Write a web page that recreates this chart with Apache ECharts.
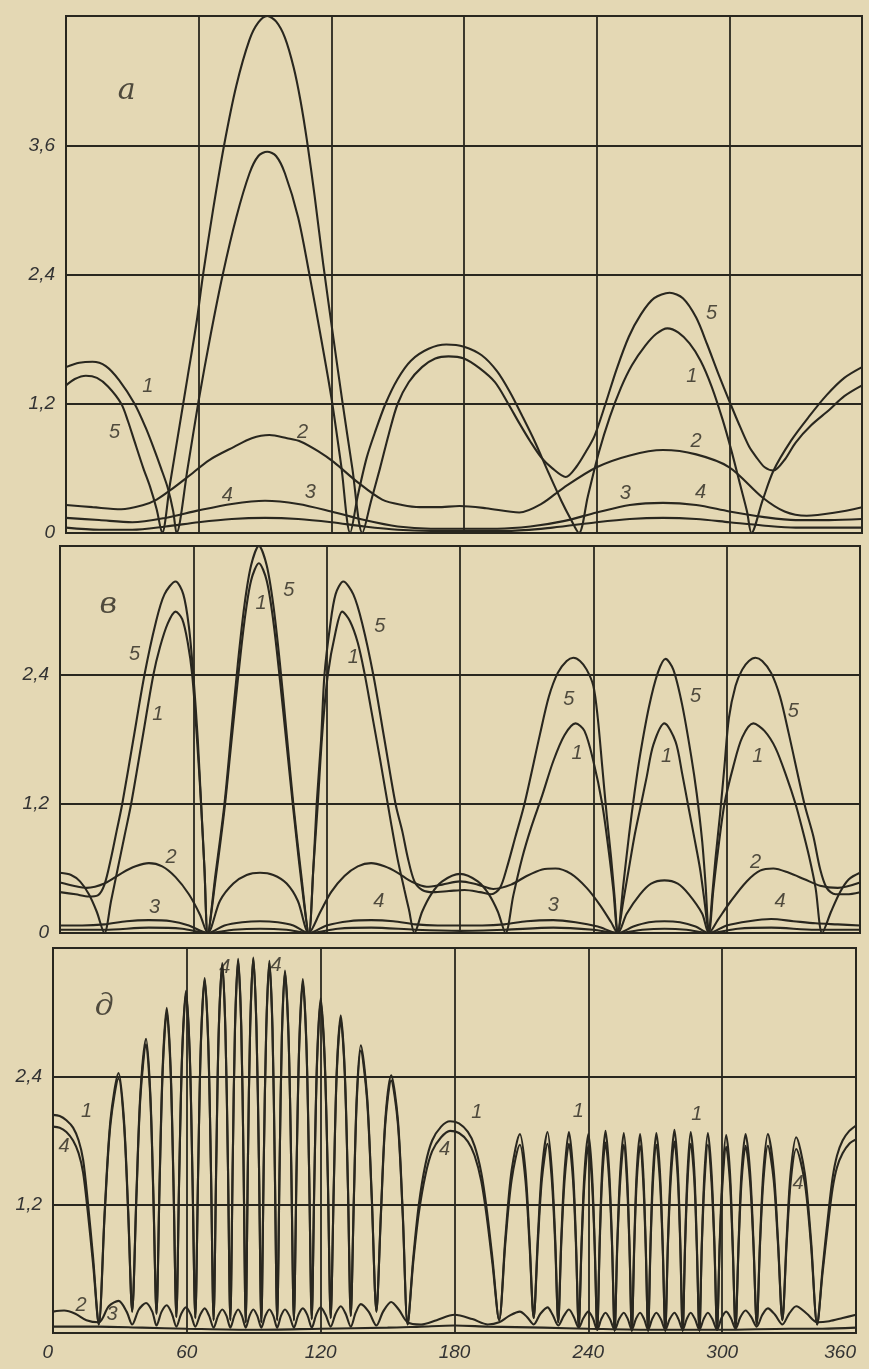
<!DOCTYPE html>
<html><head><meta charset="utf-8">
<script src="https://cdn.jsdelivr.net/npm/echarts/dist/echarts.min.js"></script>
<style>html,body{margin:0;padding:0;background:#e5dab7;} #c{width:869px;height:1369px;}</style>
</head><body><div id="c"></div>
<script>
// ---------- tick labels ----------
const xTickLabels = ['0','60','120','180','240','300','360'];
const yLabelsA = ['0','1,2','2,4','3,6',''];
const yLabelsB = ['0','1,2','2,4',''];
const yLabelsD = ['','1,2','2,4',''];
const panelLetters = [[27.5,4.1,'а'],[21.7,3.05,'в'],[23,3.05,'д']];

// ---------- panel а ----------
const a1 = [[0,1.54],[6,1.58],[12,1.59],[18,1.55],[24,1.42],[31,1.2],[36,0.98],[40,0.77],[43,0.6],[46,0.42],[48.5,0.2],[50,0],
[55,0.6],[60,1.23],[65.5,1.85],[71,2.41],[77,2.93],[83,3.34],[87,3.5],[91,3.54],[95,3.5],[99,3.34],[105,2.93],[110,2.41],[115,1.85],[120,1.26],[124.5,0.62],[128.5,0],
[132,0.35],[136,0.7],[140,0.95],[144.5,1.2],[150,1.43],[156,1.6],[164,1.71],[172,1.75],[180,1.73],[188,1.65],[195,1.5],[201,1.3],[206,1.1],[212,0.85],[218,0.57],[224,0.3],[228,0.14],[232,0],
[236,0.34],[241,0.75],[246,1.08],[251,1.35],[256,1.56],[262,1.74],[267,1.85],[272,1.9],[277,1.86],[282,1.76],[287,1.6],[292,1.36],[297,1.05],[301,0.76],[305,0.44],[308,0.2],[310,0],
[315,0.3],[320,0.58],[328,0.86],[336,1.08],[344,1.28],[352,1.44],[360,1.54]];
const a5 = [[0,1.37],[4,1.43],[9,1.46],[14,1.44],[19,1.36],[25,1.2],[28,1.04],[31,0.85],[35,0.6],[38,0.43],[41,0.22],[43.5,0],
[47,0.45],[51,0.95],[55,1.45],[59,1.95],[62,2.4],[66.5,3.0],[71.5,3.6],[77,4.15],[83,4.58],[87,4.74],[91,4.8],[95,4.75],[99,4.6],[103,4.32],[106,4.02],[109,3.64],[112.5,3.12],[116.3,2.5],[121,1.8],[125,1.22],[129.5,0.6],[134,0],
[138,0.3],[142,0.6],[146,0.92],[150,1.2],[155,1.4],[161,1.54],[167,1.62],[173,1.64],[180,1.62],[187,1.53],[194,1.4],[200,1.2],[205,1.02],[210,0.85],[215,0.7],[220,0.6],[226,0.52],
[231,0.62],[235,0.75],[239,0.9],[244,1.2],[249,1.52],[254.5,1.82],[260,2.03],[266,2.18],[273,2.23],[279,2.18],[285,2.0],[290,1.75],[295,1.48],[300.5,1.2],[305,0.98],[309,0.8],[312,0.71],[316,0.61],[320,0.58],
[325,0.68],[330,0.84],[337,1.0],[345,1.14],[352,1.27],[360,1.37]];
const a2 = [[0,0.26],[12,0.24],[25,0.22],[35,0.26],[41,0.31],[48,0.41],[55,0.52],[65,0.68],[76,0.8],[84,0.88],[92,0.91],[100,0.88],[106,0.85],[114,0.76],[121,0.66],[132,0.47],[143,0.31],[152,0.26],[160,0.24],[168,0.24],[178,0.25],[190,0.23],[205,0.19],[215,0.27],[225,0.42],[240,0.61],[255,0.72],[270,0.77],[285,0.73],[300,0.61],[315,0.33],[325,0.2],[335,0.16],[348,0.19],[360,0.24]];
const a3 = [[0,0.14],[15,0.12],[30,0.1],[45,0.14],[60,0.21],[75,0.27],[90,0.3],[105,0.27],[120,0.2],[135,0.12],[150,0.06],[165,0.04],[180,0.04],[195,0.04],[210,0.06],[225,0.11],[240,0.19],[255,0.26],[270,0.28],[285,0.26],[300,0.2],[315,0.15],[330,0.12],[345,0.12],[360,0.13]];
const a4 = [[0,0.05],[15,0.03],[30,0.03],[45,0.06],[60,0.1],[75,0.13],[90,0.14],[105,0.13],[120,0.1],[135,0.06],[150,0.03],[165,0.02],[180,0.02],[200,0.02],[220,0.05],[240,0.1],[255,0.13],[270,0.14],[285,0.13],[300,0.1],[315,0.07],[330,0.05],[345,0.05],[360,0.05]];
const labelsA = [[37,1.36,'1'],[22,0.93,'5'],[107,0.93,'2'],[73,0.35,'4'],[110.5,0.38,'3'],[292,2.04,'5'],[283,1.45,'1'],[285,0.85,'2'],[253,0.37,'3'],[287,0.38,'4']];

// ---------- panel в ----------
const b1 = [[0,0.56],[5,0.54],[9,0.48],[13,0.36],[16.5,0.2],[20,0],[23,0.3],[26,0.6],[29,0.9],[32,1.2],[37,1.8],[42,2.4],[45,2.66],[48.5,2.88],[52,2.99],[55,2.92],[57.5,2.7],[59.5,2.4],[61.5,1.85],[63.5,1.2],[65,0.6],[66.5,0],
[70,0.5],[74,1.15],[77,1.75],[80,2.35],[83,2.9],[86,3.28],[89.5,3.44],[93,3.28],[96,2.9],[99,2.35],[102,1.75],[105,1.15],[108.5,0.5],[112,0],
[114,0.6],[116,1.2],[118,1.85],[120.5,2.4],[124,2.8],[127,2.99],[130.5,2.9],[134,2.7],[137,2.42],[140,2.08],[144,1.62],[149,1.02],[152,0.68],[155,0.4],[157,0.22],[159.5,0],
[163,0.2],[167,0.36],[172,0.48],[180,0.55],[188,0.48],[193,0.36],[197,0.2],[200.5,0],
[204,0.35],[208,0.7],[212,0.98],[217,1.28],[222,1.6],[227,1.84],[232,1.95],[236,1.88],[240,1.6],[244,1.2],[247,0.75],[249,0.4],[251,0],
[253.5,0.3],[256,0.6],[258.5,0.9],[261,1.15],[264,1.45],[267,1.75],[272,1.95],[277,1.78],[280,1.48],[283,1.15],[285.5,0.88],[288,0.6],[290,0.3],[292,0],
[294,0.4],[296,0.75],[299,1.2],[303,1.55],[307,1.82],[312,1.95],[317,1.88],[322,1.72],[327,1.45],[331,1.2],[334,0.97],[337,0.72],[340,0.42],[343,0],
[347,0.2],[351,0.38],[355,0.5],[360,0.56]];
const b5 = [[0,0.38],[7,0.36],[13,0.34],[17,0.35],[20,0.45],[23,0.7],[25.5,0.95],[28,1.2],[33,1.8],[38,2.4],[43,2.88],[47,3.15],[52,3.27],[55.5,3.15],[58,2.85],[60,2.4],[62,1.8],[63.5,1.2],[65,0.6],[66.5,0],
[70,0.55],[74,1.2],[77,1.85],[80,2.5],[83,3.05],[86,3.42],[89.5,3.6],[93,3.42],[96,3.05],[99,2.5],[102,1.85],[105,1.2],[108.5,0.55],[112,0],
[114,0.6],[115.5,1.2],[117.5,1.8],[119,2.4],[121.5,2.85],[124,3.15],[127.5,3.27],[132,3.15],[136,2.88],[141,2.4],[146,1.8],[151,1.2],[154,0.95],[156.5,0.7],[159.5,0.48],[163,0.4],[168,0.38],[175,0.39],[182,0.4],[189,0.38],[194,0.36],[198,0.42],[201,0.6],[205,0.9],[209,1.2],[216,1.85],[220,2.2],[224,2.42],[228,2.53],[231,2.56],[234,2.53],[237,2.45],[240,2.3],[242,2.0],[244,1.55],[246,1.1],[248,0.7],[249.5,0.35],[251,0],
[253.5,0.45],[256,0.9],[258.5,1.3],[261,1.65],[265,2.1],[269,2.42],[272.5,2.55],[276,2.45],[280,2.12],[284,1.65],[286.5,1.3],[289,0.85],[290.5,0.45],[292,0],
[293.5,0.35],[295,0.7],[297,1.1],[299,1.55],[301,2.0],[304,2.3],[307,2.45],[310,2.53],[313,2.56],[316,2.53],[320,2.42],[324,2.2],[328,1.85],[335,1.2],[339,0.9],[342,0.6],[345,0.42],[349,0.36],[354,0.36],[360,0.38]];
const b2 = [[0,0.47],[6,0.44],[12,0.42],[20,0.46],[28,0.56],[34,0.62],[40,0.65],[46,0.62],[52,0.52],[58,0.36],[63,0.17],[66.5,0],[72,0.3],[78,0.46],[84,0.54],[90,0.56],[96,0.54],[102,0.46],[107,0.3],[112,0],[117,0.19],[122,0.38],[128,0.53],[134,0.62],[140,0.65],[146,0.62],[152,0.56],[158,0.48],[165,0.43],[172,0.45],[180,0.48],[188,0.45],[195,0.41],[203,0.45],[210,0.53],[217,0.59],[223,0.6],[230,0.55],[237,0.42],[243,0.26],[248,0.1],[251,0],[255,0.18],[261,0.36],[266,0.46],[272,0.49],[278,0.46],[283,0.36],[289,0.18],[292,0],[296,0.12],[302,0.3],[309,0.48],[315,0.58],[321,0.6],[328,0.56],[335,0.5],[342,0.44],[350,0.42],[360,0.47]];
const b3 = [[0,0.07],[10,0.07],[20,0.08],[30,0.11],[40,0.12],[50,0.11],[58,0.07],[66.5,0],[74,0.07],[82,0.1],[90,0.11],[98,0.1],[105,0.07],[112,0],[120,0.07],[130,0.11],[140,0.12],[150,0.11],[160,0.08],[170,0.07],[180,0.07],[190,0.07],[200,0.08],[210,0.11],[222,0.12],[232,0.1],[242,0.06],[251,0],[258,0.06],[265,0.1],[272,0.11],[279,0.1],[286,0.06],[292,0],[300,0.07],[310,0.11],[320,0.13],[330,0.11],[340,0.09],[350,0.08],[360,0.07]];
const b4 = [[0,0.03],[20,0.03],[40,0.05],[55,0.04],[66.5,0],[78,0.03],[90,0.04],[102,0.03],[112,0],[125,0.04],[140,0.05],[160,0.03],[180,0.02],[200,0.03],[222,0.05],[240,0.03],[251,0],[262,0.03],[272,0.04],[282,0.03],[292,0],[305,0.04],[320,0.05],[340,0.03],[360,0.03]];
const labelsB = [[33.5,2.59,'5'],[44,2.03,'1'],[90.5,3.07,'1'],[103,3.19,'5'],[143.9,2.85,'5'],[132,2.56,'1'],[50,0.7,'2'],[42.6,0.24,'3'],[143.5,0.29,'4'],[229,2.17,'5'],[232.7,1.67,'1'],[286,2.2,'5'],[273,1.64,'1'],[330,2.06,'5'],[314,1.64,'1'],[313,0.66,'2'],[222,0.26,'3'],[324,0.29,'4']];

// ---------- panel д ----------
const d1 = [[0,2.04],[3,2.03],[6,1.99],[9,1.92],[11.5,1.8],[13.5,1.62],[15.5,1.25],[18,0.7],[20.5,0.08],
[23.2,1.15],[25.8,2.0],[29.4,2.43],[31.8,2.0],[33.7,1.15],[35.5,0.2],
[37.4,1.3],[39.2,2.25],[41.7,2.75],[43.6,2.25],[45.0,1.3],[46.4,0.18],
[47.8,1.43],[49.2,2.5],[51,3.04],[52.7,2.5],[54.0,1.43],[55.3,0.15],
[56.6,1.5],[57.9,2.62],[59.6,3.2],[61.3,2.62],[62.5,1.5],[63.8,0.14],
[65.1,1.55],[66.3,2.72],[68,3.32],[69.6,2.72],[70.8,1.55],[72,0.12],
[73.2,1.6],[74.3,2.82],[75.9,3.44],[77.3,2.82],[78.4,1.6],[79.5,0.12],
[80.6,1.63],[81.6,2.87],[83,3.5],[84.4,2.87],[85.4,1.63],[86.4,0.1],
[87.4,1.63],[88.4,2.87],[89.8,3.51],[91.2,2.87],[92.3,1.63],[93.4,0.1],
[94.5,1.6],[95.6,2.83],[97,3.46],[98.4,2.83],[99.4,1.6],[100.5,0.12],
[101.6,1.58],[102.6,2.78],[104,3.39],[105.6,2.78],[106.8,1.58],[108,0.12],
[109.2,1.55],[110.4,2.71],[112,3.31],[113.6,2.71],[114.8,1.55],[116,0.13],
[117.2,1.47],[118.4,2.57],[120,3.13],[121.8,2.57],[123.2,1.47],[124.5,0.14],
[125.9,1.4],[127.2,2.45],[129,2.97],[130.8,2.45],[132.2,1.4],[133.5,0.16],
[134.9,1.28],[136.2,2.22],[138,2.69],[140.8,2.22],[142.9,1.28],[145,0.2],
[147,1.12],[149,2.0],[151.6,2.41],[154.6,2.0],[156.8,1.12],[159,0.08],
[161.5,0.7],[164,1.2],[167,1.58],[170,1.8],[174,1.93],[178,1.98],[182,1.96],[186,1.88],[189,1.75],[192,1.5],[194.5,1.15],[197,0.7],[200,0.12],
[202.8,0.89],[205.6,1.52],[209.3,1.86],[211.8,1.52],[213.6,0.89],[215.5,0.14],
[217.4,0.91],[219.2,1.53],[221.7,1.88],[223.6,1.53],[225.1,0.91],[226.5,0.1],
[227.9,0.9],[229.4,1.53],[231.3,1.88],[233.1,1.53],[234.4,0.9],[235.7,0.06],
[237.0,0.87],[238.3,1.51],[240,1.86],[241.6,1.51],[242.8,0.87],[244,0.03],
[245.1,0.87],[246.2,1.53],[247.7,1.89],[249.3,1.53],[250.6,0.87],[251.8,0.02],
[253.0,0.86],[254.3,1.51],[255.9,1.87],[257.3,1.51],[258.4,0.86],[259.5,0.02],
[260.6,0.85],[261.7,1.51],[263.2,1.86],[264.6,1.51],[265.7,0.85],[266.8,0.02],
[267.9,0.86],[269.0,1.51],[270.5,1.87],[272.1,1.51],[273.3,0.86],[274.5,0.02],
[275.7,0.87],[277.0,1.54],[278.6,1.9],[280.1,1.54],[281.2,0.87],[282.3,0.02],
[283.4,0.86],[284.5,1.52],[285.9,1.88],[287.5,1.52],[288.6,0.86],[289.8,0.02],
[290.9,0.86],[292.1,1.51],[293.6,1.87],[295.2,1.51],[296.5,0.86],[297.7,0.03],
[298.9,0.85],[300.2,1.5],[301.8,1.85],[303.5,1.5],[304.7,0.85],[306,0.05],
[307.4,0.87],[308.7,1.51],[310.5,1.86],[312.5,1.51],[314.0,0.87],[315.5,0.08],
[317.0,0.88],[318.5,1.52],[320.5,1.86],[323.1,1.52],[325.0,0.88],[327,0.12],
[328.9,0.88],[330.7,1.5],[333.2,1.83],[337.0,1.5],[339.8,0.88],[342.6,0.08],
[345,0.6],[347.5,1.1],[349.5,1.45],[351.5,1.66],[354,1.8],[357,1.89],[360,1.94]];
const d4 = [[0,1.93],[3,1.92],[6,1.88],[9,1.8],[11.5,1.68],[13.5,1.5],[15.5,1.15],[18,0.64],[20.5,0.08],
[23.2,1.12],[25.8,1.96],[29.4,2.38],[31.8,1.96],[33.7,1.12],[35.5,0.2],
[37.4,1.27],[39.2,2.21],[41.7,2.7],[43.6,2.21],[45.0,1.27],[46.4,0.18],
[47.8,1.4],[49.2,2.46],[51,3.0],[52.7,2.46],[54.0,1.4],[55.3,0.15],
[56.6,1.48],[57.9,2.6],[59.6,3.17],[61.3,2.6],[62.5,1.48],[63.8,0.14],
[65.1,1.54],[66.3,2.7],[68,3.3],[69.6,2.7],[70.8,1.54],[72,0.12],
[73.2,1.61],[74.3,2.83],[75.9,3.46],[77.3,2.83],[78.4,1.61],[79.5,0.12],
[80.6,1.62],[81.6,2.85],[83,3.48],[84.4,2.85],[85.4,1.62],[86.4,0.1],
[87.4,1.63],[88.4,2.86],[89.8,3.5],[91.2,2.86],[92.3,1.63],[93.4,0.1],
[94.5,1.62],[95.6,2.85],[97,3.48],[98.4,2.85],[99.4,1.62],[100.5,0.12],
[101.6,1.57],[102.6,2.76],[104,3.37],[105.6,2.76],[106.8,1.57],[108,0.12],
[109.2,1.53],[110.4,2.69],[112,3.28],[113.6,2.69],[114.8,1.53],[116,0.13],
[117.2,1.45],[118.4,2.54],[120,3.1],[121.8,2.54],[123.2,1.45],[124.5,0.14],
[125.9,1.38],[127.2,2.42],[129,2.93],[130.8,2.42],[132.2,1.38],[133.5,0.16],
[134.9,1.26],[136.2,2.18],[138,2.64],[140.8,2.18],[142.9,1.26],[145,0.2],
[147,1.1],[149,1.96],[151.6,2.36],[154.6,1.96],[156.8,1.1],[159,0.08],
[161.5,0.66],[164,1.12],[167,1.48],[170,1.7],[174,1.83],[178,1.89],[182,1.87],[186,1.79],[189,1.66],[192,1.42],[194.5,1.08],[197,0.65],[200,0.12],
[202.8,0.84],[205.6,1.43],[209.3,1.76],[211.8,1.43],[213.6,0.84],[215.5,0.14],
[217.4,0.85],[219.2,1.44],[221.7,1.77],[223.6,1.44],[225.1,0.85],[226.5,0.1],
[227.9,0.85],[229.4,1.44],[231.3,1.77],[233.1,1.44],[234.4,0.85],[235.7,0.06],
[237.0,0.83],[238.3,1.42],[240,1.75],[241.6,1.42],[242.8,0.83],[244,0.03],
[245.1,0.83],[246.2,1.44],[247.7,1.78],[249.3,1.44],[250.6,0.83],[251.8,0.02],
[253.0,0.82],[254.3,1.42],[255.9,1.76],[257.3,1.42],[258.4,0.82],[259.5,0.02],
[260.6,0.81],[261.7,1.42],[263.2,1.75],[264.6,1.42],[265.7,0.81],[266.8,0.02],
[267.9,0.82],[269.0,1.42],[270.5,1.76],[272.1,1.42],[273.3,0.82],[274.5,0.02],
[275.7,0.83],[277.0,1.45],[278.6,1.79],[280.1,1.45],[281.2,0.83],[282.3,0.02],
[283.4,0.82],[284.5,1.43],[285.9,1.77],[287.5,1.43],[288.6,0.82],[289.8,0.02],
[290.9,0.82],[292.1,1.42],[293.6,1.76],[295.2,1.42],[296.5,0.82],[297.7,0.03],
[298.9,0.81],[300.2,1.41],[301.8,1.74],[303.5,1.41],[304.7,0.81],[306,0.05],
[307.4,0.83],[308.7,1.42],[310.5,1.75],[312.5,1.42],[314.0,0.83],[315.5,0.08],
[317.0,0.84],[318.5,1.43],[320.5,1.75],[323.1,1.43],[325.0,0.84],[327,0.12],
[328.9,0.83],[330.7,1.41],[333.2,1.72],[337.0,1.41],[339.8,0.83],[342.6,0.08],
[345,0.56],[347.5,1.02],[349.5,1.35],[351.5,1.55],[354,1.68],[357,1.77],[360,1.81]];
const d2 = [[0,0.2],[5,0.21],[10,0.18],[15,0.12],[20.5,0.1],
[25,0.25],[29.4,0.3],[33,0.2],[35.5,0.08],
[38.5,0.22],[41.7,0.28],[44.5,0.2],[46.4,0.07],
[48.7,0.2],[51,0.26],[53.3,0.18],[55.3,0.06],
[57.5,0.18],[59.6,0.24],[61.8,0.17],[63.8,0.06],
[66,0.17],[68,0.23],[70,0.16],[72,0.05],
[74,0.16],[75.9,0.22],[77.8,0.16],[79.5,0.05],
[81.3,0.16],[83,0.22],[84.7,0.16],[86.4,0.05],
[88.1,0.16],[89.8,0.22],[91.6,0.16],[93.4,0.05],
[95.2,0.16],[97,0.22],[98.8,0.16],[100.5,0.05],
[102.2,0.16],[104,0.22],[106,0.16],[108,0.05],
[110,0.17],[112,0.23],[114,0.17],[116,0.05],
[118,0.17],[120,0.24],[122.2,0.17],[124.5,0.06],
[126.7,0.18],[129,0.25],[131.2,0.18],[133.5,0.06],
[135.7,0.19],[138,0.27],[141.5,0.2],[145,0.07],
[148,0.2],[151.6,0.29],[155,0.22],[159,0.1],
[165,0.08],[172,0.12],[180,0.17],[188,0.13],[195,0.08],[200,0.1],
[204.5,0.16],[209.3,0.2],[212.5,0.15],[215.5,0.08],
[218.5,0.18],[221.7,0.24],[224,0.17],[226.5,0.07],
[229,0.16],[231.3,0.22],[233.5,0.15],[235.7,0.05],
[237.8,0.14],[240,0.2],[242,0.14],[244,0.03],
[245.8,0.13],[247.7,0.19],[249.7,0.13],[251.8,0.03],
[253.8,0.13],[255.9,0.19],[257.7,0.13],[259.5,0.03],
[261.3,0.13],[263.2,0.19],[265,0.13],[266.8,0.03],
[268.6,0.13],[270.5,0.19],[272.5,0.13],[274.5,0.03],
[276.5,0.13],[278.6,0.19],[280.4,0.13],[282.3,0.03],
[284.1,0.13],[285.9,0.19],[287.8,0.13],[289.8,0.03],
[291.7,0.13],[293.6,0.19],[295.6,0.13],[297.7,0.03],
[299.7,0.14],[301.8,0.2],[303.9,0.14],[306,0.04],
[308.2,0.15],[310.5,0.21],[313,0.15],[315.5,0.06],
[318,0.17],[320.5,0.23],[323.7,0.17],[327,0.08],
[330,0.18],[333.2,0.25],[338,0.18],[342.6,0.1],
[348,0.11],[354,0.14],[360,0.17]];
const d3 = [[0,0.06],[20,0.06],[40,0.05],[60,0.04],[90,0.03],[120,0.04],[150,0.05],[165,0.06],[180,0.07],[195,0.06],[220,0.05],[240,0.04],[270,0.03],[300,0.03],[330,0.04],[345,0.04],[360,0.05]];
const labelsD = [[15,2.07,'1'],[5,1.74,'4'],[77,3.42,'4'],[100,3.44,'4'],[12.6,0.26,'2'],[26.5,0.17,'3'],[190,2.06,'1'],[235.5,2.07,'1'],[288.6,2.04,'1'],[175.5,1.72,'4'],[334,1.4,'4']];

// ---------- styling / build ----------
const INK = '#29271f';
const grids = [
  {left:66, top:16, width:796, height:517},
  {left:60, top:546, width:800, height:387},
  {left:53, top:948, width:803, height:385}
];
const yMax = [4.8, 3.6, 3.6];
const yLab = [yLabelsA, yLabelsB, yLabelsD];
const panels = [[a1,a2,a3,a4,a5],[b1,b2,b3,b4,b5],[d1,d2,d3,d4]];
const labels = [labelsA, labelsB, labelsD];

const option = {
  backgroundColor: '#e4d8b4',
  animation: false,
  grid: grids.map(g => Object.assign({show:true, borderColor:INK, borderWidth:2, backgroundColor:'transparent', containLabel:false, outerBoundsMode:'none'}, g)),
  xAxis: grids.map((g,i) => ({
    type:'value', gridIndex:i, min:0, max:360, interval:60,
    axisLine:{show:false}, axisTick:{show:false},
    splitLine:{show:true, lineStyle:{color:INK, width:1.8}},
    axisLabel:{show:i===2, margin:10, color:'#333', fontSize:19, fontStyle:'italic', fontFamily:'Liberation Sans',
      alignMinLabel:'right', alignMaxLabel:'right',
      formatter:(v,idx)=>xTickLabels[idx]}
  })),
  yAxis: grids.map((g,i) => ({
    type:'value', gridIndex:i, min:0, max:yMax[i], interval:1.2,
    axisLine:{show:false}, axisTick:{show:false},
    splitLine:{show:true, lineStyle:{color:INK, width:1.8}},
    axisLabel:{show:true, margin:11, color:'#333', fontSize:19, fontStyle:'italic', fontFamily:'Liberation Sans',
      formatter:(v,idx)=>yLab[i][idx]}
  })),
  series: []
};
panels.forEach((arr,i) => {
  arr.forEach(d => option.series.push({
    type:'line', xAxisIndex:i, yAxisIndex:i, data:d, showSymbol:false, symbol:'none',
    smooth:0.3, silent:true, clip:true,
    lineStyle:{color:INK, width:2.1}
  }));
  option.series.push({
    type:'scatter', xAxisIndex:i, yAxisIndex:i, symbolSize:0, silent:true,
    data: labels[i],
    label:{show:true, position:'inside', formatter:p=>p.data[2], color:INK, fontSize:20, fontStyle:'italic', fontFamily:'Liberation Sans'}
  });
  option.series.push({
    type:'scatter', xAxisIndex:i, yAxisIndex:i, symbolSize:0, silent:true,
    data: [panelLetters[i]],
    label:{show:true, position:'inside', formatter:p=>p.data[2], color:INK, fontSize:30, fontStyle:'italic', fontFamily:'DejaVu Serif'}
  });
});
const chart = echarts.init(document.getElementById('c'));
chart.setOption(option);
</script></body></html>
